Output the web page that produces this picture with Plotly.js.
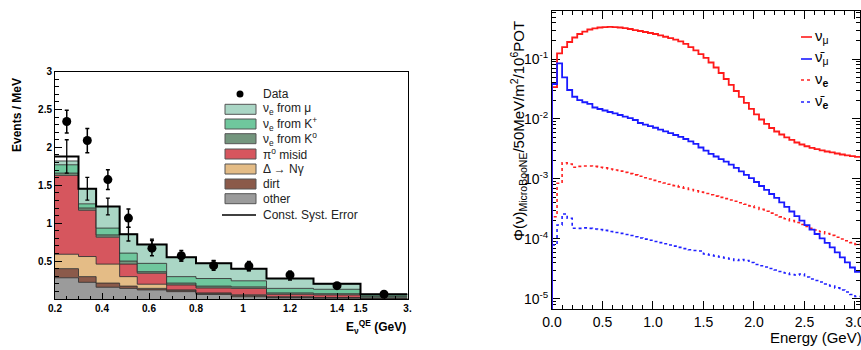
<!DOCTYPE html>
<html><head><meta charset="utf-8">
<script src="https://cdn.plot.ly/plotly-3.0.1.min.js"></script>
<style>html,body{margin:0;padding:0;background:#fff}#chart{width:861px;height:350px}</style>
</head><body><div id="chart"></div>
<script>
// ---------------- Left panel: nu_e CCQE candidate events ----------------
const binEdgesGeV = [0.2, 0.3, 0.375, 0.475, 0.55, 0.675, 0.8, 0.95, 1.1, 1.3, 1.5, 3.0];
const other     = [0.28, 0.22, 0.155, 0.14, 0.12, 0.097, 0.06, 0.03, 0.015, 0.01, 0.003];
const dirt      = [0.12, 0.075, 0.055, 0.03, 0.02, 0.018, 0.015, 0.02, 0.01, 0.008, 0.002];
const deltaNg   = [0.19, 0.265, 0.25, 0.125, 0.055, 0.005, 0.005, 0.005, 0.005, 0.002, 0.001];
const pi0Misid  = [1.04, 0.61, 0.355, 0.165, 0.145, 0.065, 0.065, 0.085, 0.032, 0.033, 0.008];
const nueFromK0 = [0.03, 0.03, 0.03, 0.04, 0.02, 0.025, 0.025, 0.02, 0.018, 0.017, 0.021];
const nueFromKp = [0.11, 0.055, 0.09, 0.105, 0.11, 0.085, 0.10, 0.08, 0.06, 0.058, 0.02];
const nueFromMu = [0.05, 0.2, 0.285, 0.25, 0.25, 0.255, 0.20, 0.16, 0.13, 0.072, 0.007];
const totalMC    = [1.88, 1.455, 1.22, 0.855, 0.72, 0.55, 0.47, 0.40, 0.27, 0.20, 0.062];
const totalMCErr = [0.22, 0.15, 0.11, 0.09, 0.07, 0.05, 0.04, 0.03, 0.02, 0.015, 0.005];
const dataEvents = [2.34, 2.09, 1.575, 1.067, 0.67, 0.57, 0.44, 0.436, 0.317, 0.176, 0.062];
const dataErr    = [0.15, 0.16, 0.13, 0.12, 0.10, 0.07, 0.06, 0.06, 0.05, 0.03, 0.015];
const leftTickGeV  = [0.2, 0.4, 0.6, 0.8, 1.0, 1.2, 1.4, 1.5, 3.0];
const leftTickText = ["0.2", "0.4", "0.6", "0.8", "1", "1.2", "1.4", "1.5", "3."];
const leftYTicks   = [0.5, 1, 1.5, 2, 2.5, 3];
const leftYText    = ["0.5", "1", "1.5", "2", "2.5", "3"];

// ---------------- Right panel: MicroBooNE flux ----------------
const fluxBinGeV = 0.05;
const numu = [0.0341,0.1245,0.158,0.192,0.228,0.261,0.287,0.31,0.325,0.335,0.341,0.344,0.341,0.335,0.326,0.316,0.304,0.293,0.282,0.271,0.261,0.248,0.235,0.222,0.21,0.196,0.178,0.158,0.139,0.121,0.104,0.0874,0.0722,0.0584,0.0464,0.0369,0.0293,0.0233,0.0185,0.0147,0.0119,0.0098,0.00826,0.00708,0.00619,0.00552,0.00492,0.00447,0.00406,0.00376,0.00351,0.00331,0.00314,0.003,0.00287,0.00277,0.00266,0.00256,0.00247,0.0024,0.00233];
const numubar = [0.0383,0.0848,0.0495,0.0304,0.0235,0.0207,0.019,0.0178,0.01555,0.01468,0.01386,0.01309,0.01236,0.01166,0.01096,0.01031,0.00962,0.00858,0.00807,0.00759,0.00714,0.00666,0.00622,0.0058,0.00541,0.00505,0.00464,0.00425,0.00386,0.00335,0.00297,0.00262,0.00237,0.00215,0.00194,0.00173,0.00153,0.00134,0.00117,0.00103,0.000891,0.000764,0.000656,0.000562,0.000483,0.000409,0.000343,0.000287,0.000241,0.000202,0.00017,0.000143,0.000121,0.000102,0.0000864,0.0000722,0.0000596,0.0000492,0.0000406,0.0000335,0.0000282];
const nue = [2.35e-4,8.48e-4,1.87e-3,1.78e-3,1.57e-3,1.62e-3,1.65e-3,1.65e-3,1.62e-3,1.57e-3,1.53e-3,1.47e-3,1.41e-3,1.35e-3,1.29e-3,1.23e-3,1.17e-3,1.11e-3,1.05e-3,1.0e-3,9.48e-4,9.02e-4,8.58e-4,8.16e-4,7.76e-4,7.38e-4,7.03e-4,6.68e-4,6.36e-4,6.05e-4,5.73e-4,5.45e-4,5.19e-4,4.94e-4,4.7e-4,4.47e-4,4.25e-4,4.01e-4,3.79e-4,3.56e-4,3.34e-4,3.11e-4,2.9e-4,2.7e-4,2.51e-4,2.34e-4,2.17e-4,2.02e-4,1.88e-4,1.74e-4,1.62e-4,1.51e-4,1.41e-4,1.32e-4,1.23e-4,1.15e-4,1.07e-4,1.0e-4,9.33e-5,8.71e-5,8.13e-5];
const nuebar = [7.94e-5,1.71e-4,2.61e-4,2.21e-4,1.51e-4,1.5e-4,1.53e-4,1.5e-4,1.47e-4,1.44e-4,1.39e-4,1.33e-4,1.28e-4,1.24e-4,1.19e-4,1.14e-4,1.09e-4,1.04e-4,9.93e-5,9.51e-5,9.08e-5,8.71e-5,8.32e-5,7.94e-5,7.59e-5,7.24e-5,6.92e-5,6.61e-5,6.43e-5,6.31e-5,5.62e-5,5.41e-5,5.21e-5,5.01e-5,4.82e-5,4.64e-5,4.38e-5,4.55e-5,4.38e-5,4.06e-5,3.76e-5,3.58e-5,3.42e-5,3.22e-5,3.04e-5,2.87e-5,2.71e-5,2.56e-5,2.51e-5,2.61e-5,2.33e-5,2.15e-5,2.03e-5,1.92e-5,1.78e-5,1.65e-5,1.53e-5,1.41e-5,1.31e-5,1.19e-5,1.1e-5];
const rightXTicks = [0, 0.5, 1.0, 1.5, 2.0, 2.5, 3.0];
const rightYTicks = [1e-5, 1e-4, 1e-3, 1e-2, 1e-1];
const rightYText  = ["10<sup>-5</sup>", "10<sup>-4</sup>", "10<sup>-3</sup>", "10<sup>-2</sup>", "10<sup>-1</sup>"];

// ---------------- helpers ----------------
const W = 861, H = 350;
const PX = x => x / W, PY = y => 1 - y / H;
const FONT = "Liberation Sans, Arial, Helvetica, sans-serif";
// compressed last bin of the left x axis (1.5-3 GeV drawn narrow)
const tx = e => e <= 1.5 ? e : 1.5 + (e - 1.5) * (0.2 / 1.5);
const lEdges = binEdgesGeV.map(tx);
const lCent = lEdges.slice(0, -1).map((e, i) => (e + lEdges[i + 1]) / 2);
const stepY = v => v.concat([v[v.length - 1]]);

const colors = {
  other: "#9b9b9b", dirt: "#8b5a4a", delta: "#e4bc86", pi0: "#d6565e",
  k0: "#74967e", kp: "#6fc79d", mu: "#aad6c5"
};
const layers = [
  [other, colors.other], [dirt, colors.dirt], [deltaNg, colors.delta],
  [pi0Misid, colors.pi0], [nueFromK0, colors.k0], [nueFromKp, colors.kp], [nueFromMu, colors.mu]
];
const traces = [];
layers.forEach(([vals, c]) => {
  traces.push({
    type: "scatter", mode: "lines", x: lEdges, y: stepY(vals), stackgroup: "mc",
    line: { shape: "hv", color: "rgba(45,45,45,0.85)", width: 1 }, fillcolor: c,
    xaxis: "x", yaxis: "y", showlegend: false, hoverinfo: "skip"
  });
});
traces.push({
  type: "scatter", mode: "lines", x: lEdges, y: stepY(totalMC),
  line: { shape: "hv", color: "#000", width: 2 }, xaxis: "x", yaxis: "y", showlegend: false
});
traces.push({
  type: "scatter", mode: "markers", x: lCent, y: totalMC,
  marker: { size: 1, color: "#000" },
  error_y: { type: "data", array: totalMCErr, color: "#000", thickness: 1.3, width: 2 },
  xaxis: "x", yaxis: "y", showlegend: false
});
traces.push({
  type: "scatter", mode: "markers", x: lCent, y: dataEvents,
  marker: { size: 9, color: "#000" },
  error_y: { type: "data", array: dataErr, color: "#000", thickness: 1.5, width: 2 },
  xaxis: "x", yaxis: "y", showlegend: false
});

// right panel step histograms
const FLOOR = 1e-7;
const fEdges = [];
for (let k = 0; k <= numu.length; k++) fEdges.push(+(k * fluxBinGeV).toFixed(3));
const fx = [0].concat(fEdges);
const fy = v => [FLOOR].concat(v).concat([v[v.length - 1]]);
[[nue, "#ff2020", "dot"], [nuebar, "#2020ff", "dot"], [numu, "#ff1a1a", "solid"], [numubar, "#1a1aff", "solid"]]
  .forEach(([v, c, d]) => {
    traces.push({
      type: "scatter", mode: "lines", x: fx, y: fy(v),
      line: { shape: "hv", color: c, width: d === "dot" ? 1.6 : 1.8, dash: d },
      xaxis: "x2", yaxis: "y2", showlegend: false
    });
  });

// minor log ticks
const minorLog = [];
for (let e = -6; e <= 0; e++) for (let m = 2; m <= 9; m++) minorLog.push(m * Math.pow(10, e));

// ---------------- manual legends ----------------
const shapes = [], ann = [];
const legRows = [94, 109.3, 124, 138.7, 154, 169, 184, 198.7, 215];
const legLabels = ["Data", "ν<sub>e</sub> from μ", "ν<sub>e</sub> from K<sup>+</sup>", "ν<sub>e</sub> from K<sup>o</sup>",
  "π<sup>o</sup> misid", "Δ → Nγ", "dirt", "other", "Const. Syst. Error"];
const legColors = [null, colors.mu, colors.kp, colors.k0, colors.pi0, colors.delta, colors.dirt, colors.other, null];
legRows.forEach((yy, i) => {
  if (i === 0) {
    shapes.push({ type: "circle", xref: "paper", yref: "paper", x0: PX(236.5), x1: PX(243.5), y0: PY(yy + 3.5), y1: PY(yy - 3.5), fillcolor: "#000", line: { width: 0 } });
  } else if (i === 8) {
    shapes.push({ type: "line", xref: "paper", yref: "paper", x0: PX(222), x1: PX(256), y0: PY(yy), y1: PY(yy), line: { color: "#000", width: 1.5 } });
  } else {
    shapes.push({ type: "rect", xref: "paper", yref: "paper", x0: PX(225), x1: PX(256), y0: PY(yy + 5), y1: PY(yy - 5), fillcolor: legColors[i], line: { color: "#555", width: 1 } });
  }
  ann.push({ xref: "paper", yref: "paper", x: PX(261), y: PY(yy), xanchor: "left", yanchor: "middle", showarrow: false,
    text: legLabels[i], font: { family: FONT, size: 12, color: "#222" } });
});
const rRows = [37, 59, 80, 102];
const rLabels = ["ν<sub>μ</sub>", "ν̄<sub>μ</sub>", "ν<sub><b>e</b></sub>", "ν̄<sub><b>e</b></sub>"];
const rColors = ["#ff1a1a", "#1a1aff", "#ff2020", "#2020ff"];
rRows.forEach((yy, i) => {
  shapes.push({ type: "line", xref: "paper", yref: "paper", x0: PX(801), x1: PX(812), y0: PY(yy), y1: PY(yy),
    line: { color: rColors[i], width: 1.6, dash: i >= 2 ? "dot" : "solid" } });
  ann.push({ xref: "paper", yref: "paper", x: PX(813), y: PY(yy - 1), xanchor: "left", yanchor: "middle", showarrow: false,
    text: rLabels[i], font: { family: FONT, size: 15, color: "#000" } });
});

// axis titles
ann.push({ xref: "paper", yref: "paper", x: PX(17), y: PY(115), textangle: -90, showarrow: false, xanchor: "center", yanchor: "middle",
  text: "<b>Events / MeV</b>", font: { family: FONT, size: 12, color: "#000" } });
ann.push({ xref: "paper", yref: "paper", x: PX(408), y: PY(327), xanchor: "right", yanchor: "middle", showarrow: false,
  text: "<b>E<sub>ν</sub><sup>QE</sup> (GeV)</b>", font: { family: FONT, size: 12, color: "#000" } });
ann.push({ xref: "paper", yref: "paper", x: PX(518), y: PY(131), textangle: -90, showarrow: false, xanchor: "center", yanchor: "middle",
  text: "Φ(ν)<sub>MicroBooNE</sub>/50MeV/m<sup>2</sup>/10<sup>6</sup>POT", font: { family: FONT, size: 15, color: "#000" } });
ann.push({ xref: "paper", yref: "paper", x: PX(864), y: PY(337), xanchor: "right", yanchor: "middle", showarrow: false,
  text: "Energy (GeV)", font: { family: FONT, size: 15, color: "#000" } });

const axBase = { showgrid: false, zeroline: false, showline: true, linecolor: "#000", linewidth: 1, ticks: "inside", tickcolor: "#000" };
const layout = {
  width: W, height: H, margin: { l: 0, r: 0, t: 0, b: 0 }, paper_bgcolor: "#fff", plot_bgcolor: "#fff",
  showlegend: false, hovermode: false,
  xaxis: Object.assign({}, axBase, {
    domain: [PX(55), PX(407.5)], range: [0.2, 1.7], mirror: true, ticklen: 6, tickmode: "array",
    tickvals: leftTickGeV.map(tx), ticktext: leftTickText, ticklabeloverflow: "allow",
    tickfont: { family: FONT, size: 10, color: "#000", weight: "bold" },
    minor: { tickmode: "linear", tick0: 0, dtick: 0.05, ticklen: 3, ticks: "inside", tickcolor: "#000" },
    anchor: "y"
  }),
  yaxis: Object.assign({}, axBase, {
    domain: [PY(299), PY(71.5)], range: [0, 3], mirror: true, ticklen: 7, tickmode: "array",
    tickvals: leftYTicks, ticktext: leftYText,
    tickfont: { family: FONT, size: 10, color: "#000", weight: "bold" },
    minor: { tickmode: "linear", tick0: 0, dtick: 0.1, ticklen: 4, ticks: "inside", tickcolor: "#000" },
    anchor: "x"
  }),
  xaxis2: Object.assign({}, axBase, {
    domain: [PX(552), PX(860)], range: [0, 3.05], mirror: "allticks", ticklen: 8, tickmode: "array",
    tickvals: rightXTicks, ticktext: rightXTicks.map(v => v.toFixed(1)), ticklabeloverflow: "allow",
    tickfont: { family: FONT, size: 14, color: "#000" },
    minor: { tickmode: "linear", tick0: 0, dtick: 0.1, ticklen: 4, ticks: "inside", tickcolor: "#000" },
    anchor: "y2", layer: "below traces"
  }),
  yaxis2: Object.assign({}, axBase, {
    domain: [PY(309), PY(11)], type: "log", range: [-5.167, -0.2], mirror: "allticks", ticklen: 8, tickmode: "array",
    tickvals: rightYTicks, ticktext: rightYText,
    tickfont: { family: FONT, size: 14, color: "#000" },
    minor: { tickmode: "array", tickvals: minorLog, ticklen: 4, ticks: "inside", tickcolor: "#000" },
    anchor: "x2", layer: "below traces"
  }),
  shapes: shapes, annotations: ann
};
Plotly.newPlot("chart", traces, layout, { staticPlot: true, displayModeBar: false });
</script></body></html>
